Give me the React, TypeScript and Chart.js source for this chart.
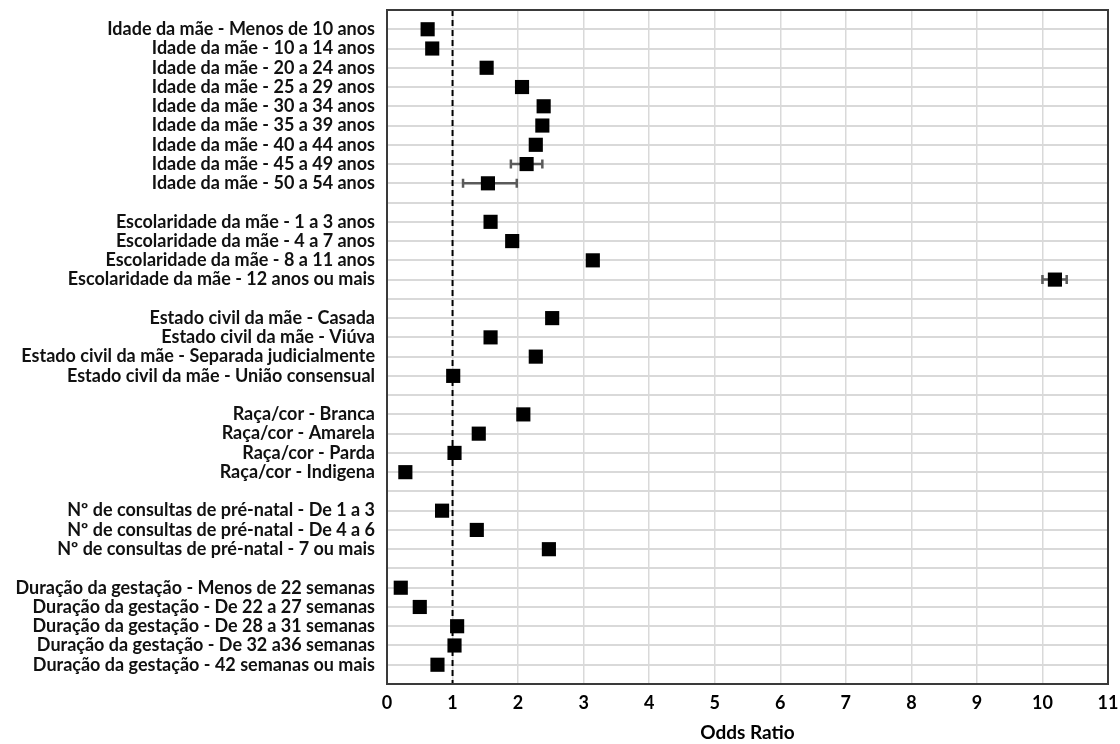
import React, { useEffect, useRef } from "react";
import { Chart, registerables } from "chart.js";

Chart.register(...registerables);

const rowLabels: string[] = [
  "Idade da mãe - Menos de 10 anos",
  "Idade da mãe - 10 a 14 anos",
  "Idade da mãe - 20 a 24 anos",
  "Idade da mãe - 25 a 29 anos",
  "Idade da mãe - 30 a 34 anos",
  "Idade da mãe - 35 a 39 anos",
  "Idade da mãe - 40 a 44 anos",
  "Idade da mãe - 45 a 49 anos",
  "Idade da mãe - 50 a 54 anos",
  "",
  "Escolaridade da mãe - 1 a 3 anos",
  "Escolaridade da mãe - 4 a 7 anos",
  "Escolaridade da mãe - 8 a 11 anos",
  "Escolaridade da mãe - 12 anos ou mais",
  "",
  "Estado civil da mãe - Casada",
  "Estado civil da mãe - Viúva",
  "Estado civil da mãe - Separada judicialmente",
  "Estado civil da mãe - União consensual",
  "",
  "Raça/cor - Branca",
  "Raça/cor - Amarela",
  "Raça/cor - Parda",
  "Raça/cor - Indigena",
  "",
  "Nº de consultas de pré-natal - De 1 a 3",
  "Nº de consultas de pré-natal - De 4 a 6",
  "Nº de consultas de pré-natal - 7 ou mais",
  "",
  "Duração da gestação - Menos de 22 semanas",
  "Duração da gestação - De 22 a 27 semanas",
  "Duração da gestação - De 28 a 31 semanas",
  "Duração da gestação - De 32 a36 semanas",
  "Duração da gestação - 42 semanas ou mais",
];

const oddsRatio: (number | null)[] = [
  0.62, 0.69, 1.52, 2.06, 2.39, 2.37, 2.27, 2.13, 1.54, null,
  1.58, 1.91, 3.14, 10.19, null,
  2.52, 1.58, 2.27, 1.01, null,
  2.08, 1.4, 1.03, 0.28, null,
  0.84, 1.37, 2.47, null,
  0.21, 0.5, 1.07, 1.03, 0.77,
];

const ciLow: (number | null)[] = [
  null, null, null, null, null, null, null, 1.89, 1.16, null,
  null, null, null, 10.0, null,
  null, null, null, null, null,
  null, null, null, null, null,
  null, null, null, null,
  null, null, null, null, null,
];

const ciHigh: (number | null)[] = [
  null, null, null, null, null, null, null, 2.37, 1.98, null,
  null, null, null, 10.37, null,
  null, null, null, null, null,
  null, null, null, null, null,
  null, null, null, null,
  null, null, null, null, null,
];

const xTicksMax = 11;
const referenceLine = 1;
const xTitle = "Odds Ratio";

const FONT = "Lato, 'Open Sans', sans-serif";

const errorBarPlugin = {
  id: "errorBars",
  beforeDatasetsDraw(chart: any) {
    const { ctx, scales } = chart;
    const xs = scales.x;
    const ys = scales.y;
    ctx.save();
    ctx.strokeStyle = "#5a5a5a";
    ctx.lineWidth = 2.5;
    for (let i = 0; i < rowLabels.length; i++) {
      const lo = ciLow[i];
      const hi = ciHigh[i];
      if (lo == null || hi == null) continue;
      const y = ys.getPixelForValue(i + 1);
      const x1 = xs.getPixelForValue(lo);
      const x2 = xs.getPixelForValue(hi);
      ctx.beginPath();
      ctx.moveTo(x1, y);
      ctx.lineTo(x2, y);
      ctx.moveTo(x1, y - 4.5);
      ctx.lineTo(x1, y + 4.5);
      ctx.moveTo(x2, y - 4.5);
      ctx.lineTo(x2, y + 4.5);
      ctx.stroke();
    }
    ctx.restore();
  },
};

const framePlugin = {
  id: "frame",
  afterDraw(chart: any) {
    const { ctx, chartArea } = chart;
    ctx.save();
    ctx.strokeStyle = "#3a3a3a";
    ctx.lineWidth = 2;
    ctx.strokeRect(
      chartArea.left,
      chartArea.top,
      chartArea.right - chartArea.left,
      chartArea.bottom - chartArea.top
    );
    ctx.restore();
  },
};

export default function App() {
  const canvasRef = useRef<HTMLCanvasElement | null>(null);

  useEffect(() => {
    if (!canvasRef.current) return;
    const points = oddsRatio
      .map((v, i) => (v == null ? null : { x: v, y: i + 1 }))
      .filter((p) => p !== null) as { x: number; y: number }[];

    const chart = new Chart(canvasRef.current, {
      type: "scatter",
      data: {
        datasets: [
          {
            type: "line",
            data: [
              { x: referenceLine, y: 0 },
              { x: referenceLine, y: rowLabels.length + 1 },
            ],
            borderColor: "#000000",
            borderWidth: 2,
            borderDash: [6, 4],
            pointRadius: 0,
            fill: false,
            order: 2,
          } as any,
          {
            data: points,
            pointStyle: "rect",
            pointRadius: 10,
            pointHoverRadius: 10,
            backgroundColor: "#000000",
            borderColor: "#000000",
            borderWidth: 0,
            order: 1,
          },
        ],
      },
      options: {
        animation: false,
        responsive: true,
        maintainAspectRatio: false,
        layout: { padding: { top: 10, right: 12, left: 0, bottom: 0 } },
        plugins: {
          legend: { display: false },
          tooltip: { enabled: false },
        },
        scales: {
          x: {
            type: "linear",
            min: 0,
            max: xTicksMax,
            border: { display: false },
            grid: { color: "#d9d9d9", lineWidth: 1.5, drawTicks: false },
            ticks: {
              stepSize: 1,
              padding: 8,
              color: "#000000",
              font: { family: FONT, size: 18, weight: "bold" },
            },
            title: {
              display: true,
              text: xTitle,
              color: "#000000",
              font: { family: FONT, size: 19, weight: "bold" },
              padding: { top: 4, bottom: 0 },
            },
            afterFit(scale: any) {
              scale.height = 60;
              scale.paddingLeft = 0;
              scale.paddingRight = 0;
            },
          },
          y: {
            type: "linear",
            min: 0,
            max: rowLabels.length + 1,
            reverse: true,
            border: { display: false },
            grid: { color: "#d9d9d9", lineWidth: 2, drawTicks: false },
            ticks: {
              stepSize: 1,
              autoSkip: false,
              padding: 12,
              color: "#111111",
              font: { family: FONT, size: 18, weight: "bold" },
              callback: (value: any) => {
                const v = Number(value);
                if (v >= 1 && v <= rowLabels.length) return rowLabels[v - 1];
                return "";
              },
            },
            afterFit(scale: any) {
              scale.width = 387;
              scale.paddingTop = 0;
              scale.paddingBottom = 0;
            },
          },
        },
      },
      plugins: [errorBarPlugin, framePlugin],
    });
    return () => chart.destroy();
  }, []);

  return (
    <div style={{ position: "fixed", left: 0, top: 0, width: 1120, height: 744, background: "#ffffff" }}>
      <canvas ref={canvasRef} />
    </div>
  );
}
